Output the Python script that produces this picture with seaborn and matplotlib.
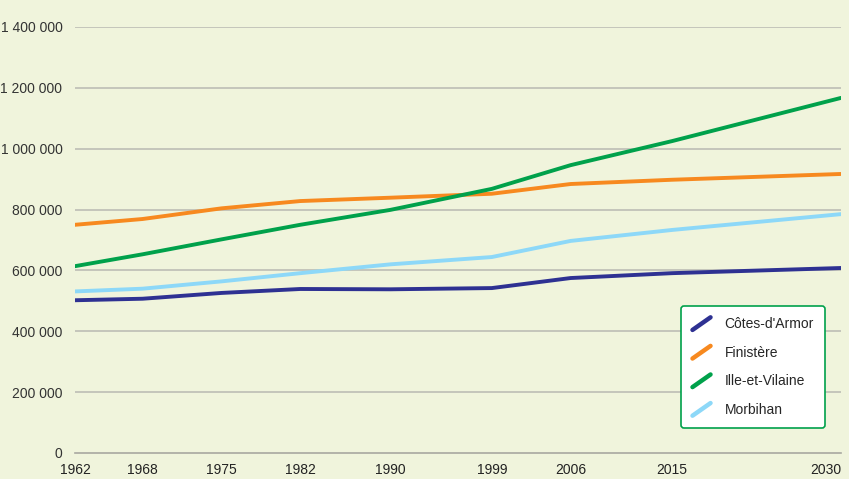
import pandas as pd
import matplotlib.pyplot as plt
import seaborn as sns
from matplotlib.lines import Line2D
from matplotlib.legend_handler import HandlerLine2D
from matplotlib.ticker import FuncFormatter, MultipleLocator

# Données : population par département (recensements puis projection)
annees = [1962, 1968, 1975, 1982, 1990, 1999, 2006, 2015, 2030]
departements = ['Côtes-d\'Armor', 'Finistère', 'Ille-et-Vilaine', 'Morbihan']
cotes_darmor = [502000, 507000, 526000, 539000, 538000, 542000, 575000, 591000, 608000]
finistere = [750000, 769000, 804000, 828000, 839000, 852000, 884000, 898000, 917000]
ille_et_vilaine = [614000, 653000, 702000, 750000, 799000, 868000, 946000, 1025000, 1167000]
morbihan = [531000, 540000, 564000, 591000, 620000, 644000, 697000, 733000, 785000]
couleurs = ['#2e3192', '#f7891f', '#00a14b', '#8dd8f8']

df = pd.DataFrame({
    'Année': annees * 4,
    'Département': sum([[d] * len(annees) for d in departements], []),
    'Population': cotes_darmor + finistere + ille_et_vilaine + morbihan,
})

sns.set_style('white')
plt.rcParams['font.family'] = ['Liberation Sans', 'DejaVu Sans']

fig = plt.figure(figsize=(8.49, 4.79), dpi=100)
fig.patch.set_facecolor('#f0f4dc')
ax = fig.add_axes([75 / 849, 1 - 453 / 479, (841 - 75) / 849, (453 - 27) / 479])
ax.set_facecolor('#f0f4dc')

sns.lineplot(data=df, x='Année', y='Population', hue='Département',
             palette=couleurs, linewidth=2.8, ax=ax, legend=False)

ax.set_xlim(1962, 2030)
ax.set_ylim(0, 1400000)
ax.set_xticks(annees)
ax.xaxis.set_minor_locator(MultipleLocator(1))
ax.yaxis.set_major_locator(MultipleLocator(200000))
ax.yaxis.set_major_formatter(FuncFormatter(lambda v, p: f'{int(v):,}'.replace(',', ' ')))
ax.set_xlabel('')
ax.set_ylabel('')

# Grille horizontale grise
for v in range(200000, 1400001, 200000):
    ax.axhline(v, color='#bdbdb5', linewidth=1.2, zorder=0)

for s in ['top', 'right', 'left']:
    ax.spines[s].set_visible(False)
ax.spines['bottom'].set_color('#a8a8a0')
ax.spines['bottom'].set_linewidth(1.2)

ax.tick_params(axis='x', which='major', direction='inout', length=10, width=1.2,
               color='#222222', labelsize=10, pad=2, labelcolor='#222222')
ax.tick_params(axis='x', which='minor', direction='in', length=4, width=0.8, color='#a8a8a0')
ax.tick_params(axis='y', length=0, labelsize=10, pad=9, labelcolor='#333333')

# Le dernier libellé (2030) est calé à droite pour rester dans l'image
etiquettes = ax.get_xticklabels()
etiquettes[-1].set_horizontalalignment('right')
etiquettes[-1].set_x(2030.6)


# Légende avec traits obliques
class HandlerDiag(HandlerLine2D):
    def create_artists(self, legend, orig_handle, xdescent, ydescent, width, height, fontsize, trans):
        ligne = Line2D([0, width], [-0.2 * height, 1.1 * height],
                       color=orig_handle.get_color(), linewidth=3.2, solid_capstyle='round')
        ligne.set_transform(trans)
        return [ligne]


poignees = [Line2D([], [], color=c) for c in couleurs]
leg = ax.legend(poignees, departements, loc='lower right', bbox_to_anchor=(0.979, 0.059),
                handler_map={Line2D: HandlerDiag()}, handlelength=1.3, handletextpad=1.0,
                fontsize=10, labelspacing=1.05, borderpad=0.8, borderaxespad=0,
                frameon=True, fancybox=True)
leg.get_frame().set_edgecolor('#00a14b')
leg.get_frame().set_linewidth(1.2)
leg.get_frame().set_facecolor('white')
leg.get_frame().set_alpha(1)

fig.savefig('out.png', dpi=100, facecolor=fig.get_facecolor())
